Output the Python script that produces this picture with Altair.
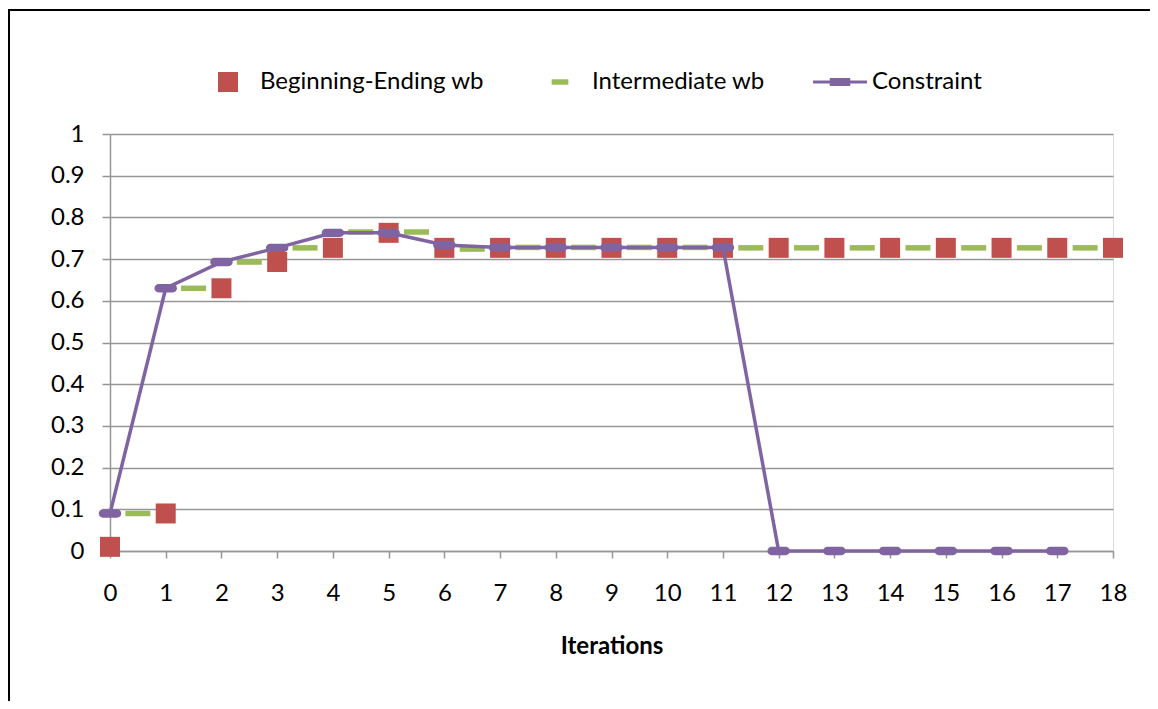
import altair as alt
import pandas as pd

# ---- data ----
series_names = ["Beginning-Ending wb", "Intermediate wb", "Constraint"]
series_colors = ["#C0504D", "#9BBB59", "#8064A2"]

iterations = list(range(19))
beginning_ending = [0.01, 0.09, 0.63, 0.693, 0.727, 0.763, 0.727, 0.727, 0.727, 0.727,
                    0.727, 0.727, 0.727, 0.727, 0.727, 0.727, 0.727, 0.727, 0.727]

# intermediate values sit between consecutive iterations (i + 0.5)
intermediate_index = list(range(18))
intermediate = [0.09, 0.63, 0.693, 0.727, 0.765, 0.765, 0.724, 0.728, 0.728, 0.728,
                0.728, 0.727, 0.727, 0.727, 0.727, 0.727, 0.727, 0.727]

constraint_iter = list(range(18))
constraint = [0.09, 0.63, 0.693, 0.727, 0.763, 0.763, 0.734, 0.728, 0.728, 0.728,
              0.728, 0.728, 0.0, 0.0, 0.0, 0.0, 0.0, 0.0]

x_ticks = list(range(19))
y_ticks = [0, 0.1, 0.2, 0.3, 0.4, 0.5, 0.6, 0.7, 0.8, 0.9, 1.0]

FONT = "Lato"
FS = 24
GRID = "#969696"

be_df = pd.DataFrame({"x": iterations, "y": beginning_ending})
im_df = pd.DataFrame({"i": intermediate_index, "y": intermediate})
co_df = pd.DataFrame({"x": constraint_iter, "y": constraint})

x_scale = alt.Scale(domain=[0, 18], nice=False, zero=False)
y_scale = alt.Scale(domain=[0, 1], nice=False)

x_axis = alt.Axis(values=x_ticks, format="d", title="Iterations", grid=False,
                  labelFontSize=FS, labelFont=FONT, labelColor="black", tickSize=7,
                  tickColor=GRID, tickWidth=1.5, domainColor=GRID, domainWidth=1.5,
                  labelPadding=23, titleFont=FONT, titleFontSize=FS,
                  titleFontWeight="bold", titleColor="black", titlePadding=29,
                  labelFlush=False)
y_axis = alt.Axis(values=y_ticks, title=None, format="~g", grid=True, gridColor=GRID,
                  gridWidth=1.5, labelFontSize=FS, labelFont=FONT, labelColor="black",
                  tickSize=8, tickColor=GRID, tickWidth=1.5, domainColor=GRID,
                  domainWidth=1.5, labelPadding=18)

red = alt.Chart(be_df).mark_square(size=400, color=series_colors[0], opacity=1).encode(
    x=alt.X("x:Q", scale=x_scale, axis=x_axis),
    y=alt.Y("y:Q", scale=y_scale, axis=y_axis),
)

dash_path = "M-1,-0.22H1V0.22H-1Z"
green = alt.Chart(im_df).transform_calculate(x="datum.i + 0.5").mark_point(
    shape=dash_path, filled=True, size=625, color=series_colors[1], opacity=1
).encode(x=alt.X("x:Q", scale=x_scale), y=alt.Y("y:Q", scale=y_scale))

purple_line = alt.Chart(co_df).mark_line(color=series_colors[2], strokeWidth=3.5).encode(
    x=alt.X("x:Q", scale=x_scale), y=alt.Y("y:Q", scale=y_scale)
)

pill_path = "M-0.64,-0.38H0.64A0.38,0.38 0 0 1 0.64,0.38H-0.64A0.38,0.38 0 0 1 -0.64,-0.38Z"
purple_pts = alt.Chart(co_df).mark_point(
    shape=pill_path, filled=True, size=484, color=series_colors[2], opacity=1
).encode(x=alt.X("x:Q", scale=x_scale), y=alt.Y("y:Q", scale=y_scale))

legend_paths = [
    "M-0.37,-0.37H0.37V0.37H-0.37Z",
    "M-0.31,-0.1H0.31V0.1H-0.31Z",
    "M-1,-0.06H1V0.06H-1Z M-0.38,-0.15H0.38V0.15H-0.38Z",
]
legend = alt.Legend(orient="none", legendX=91, legendY=-79, direction="horizontal",
                    title=None, symbolSize=2916, labelFontSize=FS, labelFont=FONT,
                    labelColor="black", labelOffset=5, columnPadding=48, labelLimit=0,
                    symbolStrokeWidth=0, symbolOpacity=1)
legend_df = pd.DataFrame({"series": series_names})
legend_layer = alt.Chart(legend_df).transform_filter("false").mark_point(
    filled=True, opacity=1
).encode(
    color=alt.Color("series:N", scale=alt.Scale(domain=series_names, range=series_colors),
                    legend=legend),
    shape=alt.Shape("series:N", scale=alt.Scale(domain=series_names, range=legend_paths),
                    legend=legend),
)

frame = alt.Chart(pd.DataFrame({"a": [0]})).mark_rect(
    fillOpacity=0, stroke="black", strokeWidth=2
).encode(x=alt.value(-101), x2=alt.value(1200), y=alt.value(-124), y2=alt.value(700))

chart = alt.layer(frame, red, green, purple_line, purple_pts, legend_layer).properties(
    width=1003, height=417,
    autosize=alt.AutoSizeParams(type="none"),
    padding={"left": 102, "top": 126, "right": 37, "bottom": 150},
).configure_view(stroke=None).configure(background="white")

chart.save("out.html", embed_options={"renderer": "svg", "actions": False})
